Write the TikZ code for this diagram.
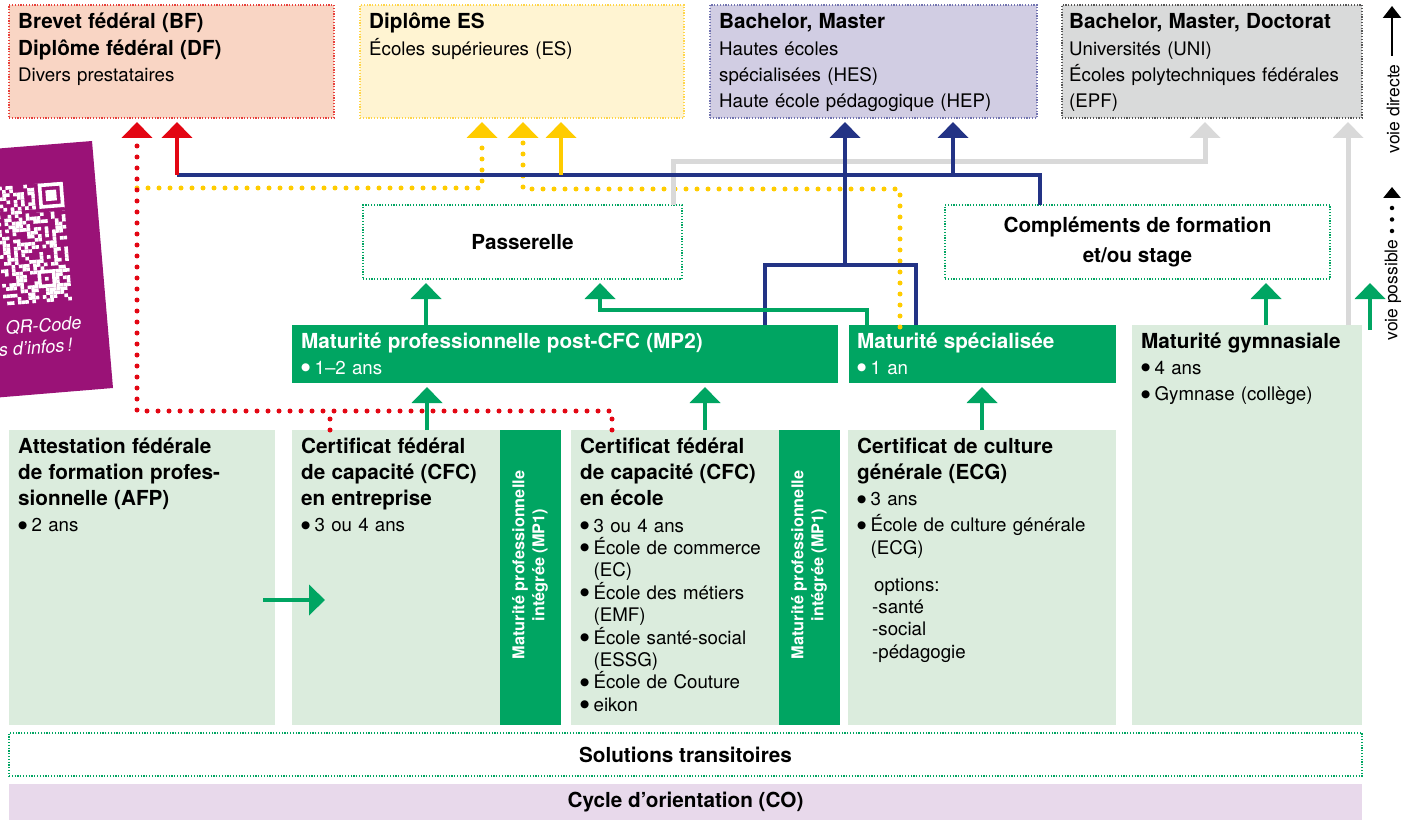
\documentclass[tikz,border=0pt]{standalone}
\usepackage{fontspec}
\setmainfont{TeX Gyre Heros}
\newfontfamily\dvs{DejaVu Sans}
\usetikzlibrary{arrows.meta}
\definecolor{bfFill}{HTML}{F9D5C4}
\definecolor{bfLine}{HTML}{E8413C}
\definecolor{esFill}{HTML}{FFF4D2}
\definecolor{esLine}{HTML}{FFD54A}
\definecolor{bmFill}{HTML}{D1CDE3}
\definecolor{bmLine}{HTML}{7274B0}
\definecolor{udFill}{HTML}{D9DADA}
\definecolor{udLine}{HTML}{555555}
\definecolor{redA}{HTML}{E30613}
\definecolor{yelA}{HTML}{FFCC00}
\definecolor{navyA}{HTML}{233385}
\definecolor{grayA}{HTML}{D9D9D9}
\definecolor{greenA}{HTML}{00A562}
\definecolor{greenL}{HTML}{DBECDD}
\definecolor{purpleQ}{HTML}{9A1277}
\definecolor{coFill}{HTML}{E8D9EB}
\newcommand{\bt}[1]{{\fontsize{20.7}{26.3}\selectfont\bfseries #1}}
\newcommand{\bu}{\makebox[0.72em][l]{\raisebox{3.6pt}{\dvs\fontsize{10.5}{10.5}\selectfont ●}}}
\begin{document}
\begin{tikzpicture}[x=1pt,y=-1pt,
  zone/.style={inner sep=0pt, outer sep=0pt, anchor=north west},
  dotbox/.style={zone, draw, line width=1.2pt, dash pattern=on 1.2pt off 1.6pt},
  txt/.style={anchor=base west, inner sep=0pt, align=left, text width=700pt,
    font=\fontsize{18.7}{26.3}\selectfont},
  lst/.style={anchor=base west, inner sep=0pt, align=left, text width=700pt,
    font=\fontsize{18.7}{22.4}\selectfont},
  ctxt/.style={inner sep=0pt, align=center, font=\fontsize{20.7}{30}\selectfont\bfseries},
  conn/.style={line width=4pt},
  arrowhd/.style={-{Triangle[width=30pt,length=16pt]}, shorten >=4pt},
  dotline/.style={line width=5pt, dash pattern=on 0pt off 11pt, line cap=round},
  mpone/.style={rotate=90, text=white, align=center, inner sep=0pt,
    font=\fontsize{16.3}{20}\selectfont\bfseries}]
\useasboundingbox (0,0) rectangle (1411,821);

% ---------- QR panel ----------
\fill[purpleQ] (-20,150) -- (92,141) -- (113,388) -- (-20,399) -- cycle;
\begin{scope}[rotate around={4.5:(50,250)}]
  \pgfmathsetseed{4242}
  \foreach \c in {14,...,32}{
    \foreach \r in {0,...,32}{
      \pgfmathrandominteger{\q}{0}{1}
      \ifnum\q=1 \fill[white] ({-50.8+3.6*\c},{183+3.6*\r}) rectangle ++(3.6,3.6);\fi
    }
  }
  % finder pattern (top right)
  \fill[purpleQ] (39.2,183) rectangle (68,211.8);
  \fill[white, even odd rule] (42.8,183) rectangle (68,208.2) (46.4,186.6) rectangle (64.4,204.6);
  \fill[white] (50,190.2) rectangle (60.8,201);
  % timing pattern
  \foreach \c in {14,15,...,24}{\fill[purpleQ] ({-50.8+3.6*\c},204.6) rectangle ++(3.6,3.6);}
  \foreach \c in {14,16,...,24}{\fill[white] ({-50.8+3.6*\c},204.6) rectangle ++(3.6,3.6);}
  % alignment pattern
  \fill[purpleQ] (35.6,269.4) rectangle (53.6,287.4);
  \fill[white, even odd rule] (35.6,269.4) rectangle (53.6,287.4) (39.2,273) rectangle (50,283.8);
  \fill[white] (42.8,276.6) rectangle (46.4,280.2);
\end{scope}
\node[rotate=4.5, anchor=base east, inner sep=0pt, text=white,
  font=\fontsize{18}{20}\selectfont\itshape] (qra) at (82,329) {QR-Code};
\node[rotate=4.5, anchor=base east, inner sep=0pt, text=white,
  font=\fontsize{18}{20}\selectfont\itshape] (qrb) at (73,351) {s d’infos\,!};

% ---------- boxes ----------
\node[dotbox, draw=bfLine, fill=bfFill, minimum width=325pt, minimum height=113pt] (bf) at (9,5) {};
\node[dotbox, draw=esLine, fill=esFill, minimum width=324pt, minimum height=113pt] (es) at (360,5) {};
\node[dotbox, draw=bmLine, fill=bmFill, minimum width=327pt, minimum height=113pt] (bm) at (710,5) {};
\node[dotbox, draw=udLine, fill=udFill, minimum width=300pt, minimum height=113pt] (ud) at (1062,5) {};

\node[dotbox, draw=greenA, minimum width=319pt, minimum height=74pt] (pas) at (363,205) {};
\node[dotbox, draw=greenA, minimum width=385pt, minimum height=74pt] (comp) at (945,205) {};

\node[zone, fill=greenA, minimum width=546pt, minimum height=58pt] (mp2) at (292,325) {};
\node[zone, fill=greenA, minimum width=267pt, minimum height=58pt] (ms) at (849,325) {};
\node[zone, fill=greenL, minimum width=230pt, minimum height=400pt] (mg) at (1132,325) {};

\node[zone, fill=greenL, minimum width=266pt, minimum height=295pt] (afp) at (9,430) {};
\node[zone, fill=greenL, minimum width=208pt, minimum height=295pt] (cfce) at (292,430) {};
\node[zone, fill=greenA, minimum width=61pt, minimum height=295pt] (mpa) at (500,430) {};
\node[zone, fill=greenL, minimum width=208pt, minimum height=295pt] (cfcs) at (571,430) {};
\node[zone, fill=greenA, minimum width=61pt, minimum height=295pt] (mpb) at (779,430) {};
\node[zone, fill=greenL, minimum width=268pt, minimum height=295pt] (ecg) at (848,430) {};

\node[dotbox, draw=greenA, minimum width=1353pt, minimum height=43pt] (st) at (9,733) {};
\node[zone, fill=coFill, minimum width=1353pt, minimum height=36pt] (co) at (9,784) {};

% ---------- connectors ----------
% yellow dotted
\draw[dotline, yelA, arrowhd] (137,188) -- (482,188) -- (es.south -| 482,0);
\draw[dotline, yelA, arrowhd] (900,327) -- (900,189) -- (523,189) -- (es.south -| 523,0);
% red dotted
\draw[dotline, redA, arrowhd] (cfcs.north -| 612,0) -- (612,411) -- (137,411) -- (bf.south -| 137,0);
\draw[dotline, redA] (cfce.north -| 330,0) -- (330,411);
% gray
\draw[line width=5pt, grayA, arrowhd] (pas.north -| 673,0) -- (673,162) -- (1205,162) -- (ud.south -| 1205,0);
\draw[line width=5pt, grayA, arrowhd] (mg.north -| 1348,0) -- (ud.south -| 1348,0);
% navy
\draw[conn, navyA] (comp.north -| 1040,0) -- (1040,175) -- (177,175);
\draw[conn, navyA, arrowhd] (953,175) -- (bm.south -| 953,0);
\draw[conn, navyA] (mp2.north -| 765,0) -- (765,265) -- (916,265) -- (ms.north -| 916,0);
\draw[conn, navyA, arrowhd] (845,265) -- (bm.south -| 845,0);
\draw[conn, redA, arrowhd] (177,175) -- (bf.south -| 177,0);
\draw[conn, yelA, arrowhd] (561,175) -- (es.south -| 561,0);
% green
\draw[conn, greenA, arrowhd] (cfce.north -| 427,0) -- (mp2.south -| 427,0);
\draw[conn, greenA, arrowhd] (cfcs.north -| 705,0) -- (mp2.south -| 705,0);
\draw[conn, greenA, arrowhd] (ecg.north -| 982,0) -- (ms.south -| 982,0);
\draw[conn, greenA, arrowhd] (mp2.north -| 426,0) -- (pas.south -| 426,0);
\draw[conn, greenA, arrowhd] (ms.north -| 867,0) -- (867,310) -- (600,310) -- (pas.south -| 600,0);
\draw[conn, greenA, arrowhd] (mg.north -| 1266,0) -- (comp.south -| 1266,0);
\draw[conn, greenA, arrowhd] (1370,330) -- (comp.south -| 1370,0);
\draw[conn, greenA, -{Triangle[width=30pt,length=16pt]}] (263,600) -- (325,600);

% ---------- texts ----------
\node[txt] (bft) at (18,29) {\bt{Brevet fédéral (BF)}\\\bt{Diplôme fédéral (DF)}\\Divers prestataires};
\node[txt] (est) at (369,29) {\bt{Diplôme ES}\\Écoles supérieures (ES)};
\node[txt] (bmt) at (719,29) {\bt{Bachelor, Master}\\Hautes écoles\\spécialisées (HES)\\Haute école pédagogique (HEP)};
\node[txt] (udt) at (1069,29) {\bt{Bachelor, Master, Doctorat}\\Universités (UNI)\\Écoles polytechniques fédérales\\(EPF)};

\node[ctxt] (past) at (pas.center) {Passerelle};
\node[ctxt] (compt) at (comp.center) {Compléments de formation\\et/ou stage};

\node[txt, text=white] (mp2t) at (301,348) {\bt{Maturité professionnelle post-CFC (MP2)}\\\bu 1–2 ans};
\node[txt, text=white] (mst) at (857,348) {\bt{Maturité spécialisée}\\\bu 1 an};
\node[txt] (mgt) at (1141,348) {\bt{Maturité gymnasiale}\\\bu 4 ans\\\bu Gymnase (collège)};

\node[txt] (afpt) at (18,453) {\bt{Attestation fédérale}\\\bt{de formation profes-}\\\bt{sionnelle (AFP)}\\\bu 2 ans};
\node[txt] (cfcet) at (301,453) {\bt{Certificat fédéral}\\\bt{de capacité (CFC)}\\\bt{en entreprise}\\\bu 3 ou 4 ans};
\node[txt] (cfcst) at (580,453) {\bt{Certificat fédéral}\\\bt{de capacité (CFC)}\\\bt{en école}};
\node[lst] (cfcsl) at (580,532) {\bu 3 ou 4 ans\\\bu École de commerce\\\hspace*{0.72em}(EC)\\\bu École des métiers\\\hspace*{0.72em}(EMF)\\\bu École santé-social\\\hspace*{0.72em}(ESSG)\\\bu École de Couture\\\bu eikon};
\node[txt] (ecgt) at (857,453) {\bt{Certificat de culture}\\\bt{générale (ECG)}\\\bu 3 ans\\\bu École de culture générale};
\node[lst] (ecgl) at (857,554) {\hspace*{0.72em}(ECG)};
\node[lst] (ecgo) at (872,591) {\hspace*{2pt}options:\\-santé\\-social\\-pédagogie};

\node[mpone] (mpat) at (530,565) {Maturité professionnelle\\intégrée (MP1)};
\node[mpone] (mpbt) at (809,565) {Maturité professionnelle\\intégrée (MP1)};

\node[ctxt] (stt) at (st.center) {Solutions transitoires};
\node[ctxt] (cot) at (co.center) {Cycle d’orientation (CO)};

% ---------- legend ----------
\draw[line width=2.2pt, -{Triangle[width=18pt,length=12pt]}] (1392,56) -- (1392,6);
\node[rotate=90, inner sep=0pt, font=\fontsize{17.5}{20}\selectfont] (vdir) at (1393,109) {voie directe};
\draw[line width=4.5pt, dash pattern=on 0pt off 11.5pt, line cap=round,
  -{Triangle[width=17pt,length=11pt]}] (1392,231) -- (1392,187);
\node[rotate=90, inner sep=0pt, font=\fontsize{17.5}{20}\selectfont] (vpos) at (1393,290) {voie possible};
\end{tikzpicture}
\end{document}
